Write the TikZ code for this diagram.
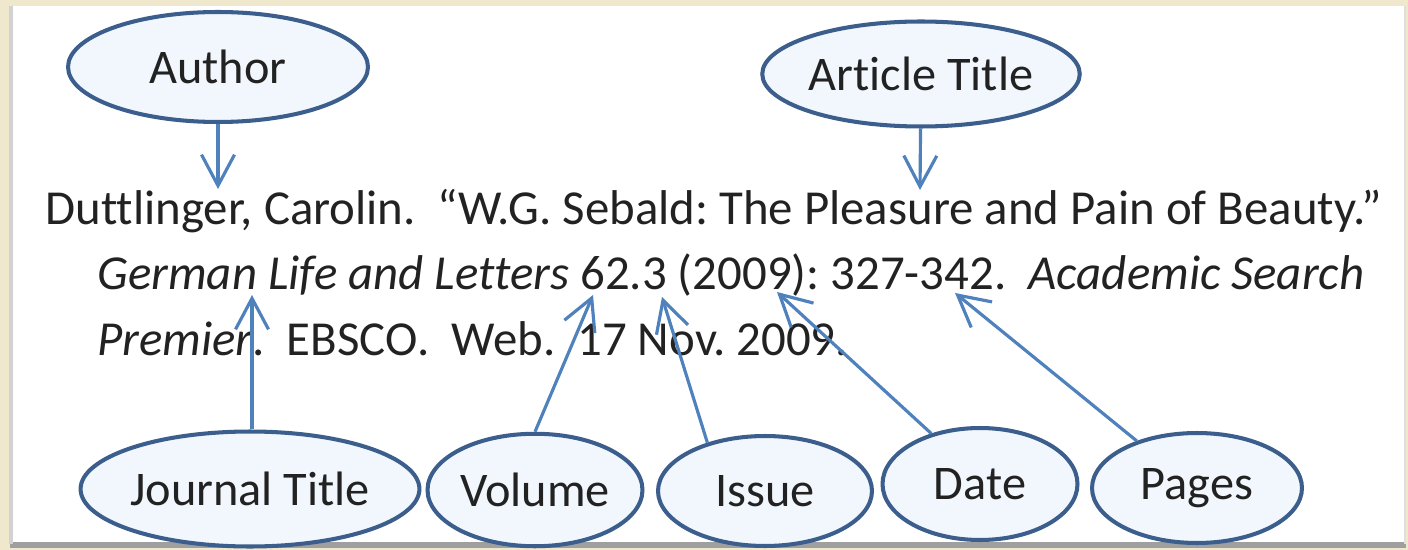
\documentclass[tikz,border=0pt]{standalone}
\usepackage{fontspec}
\setmainfont[Ligatures=NoCommon]{Carlito}
\usepackage{tikz}
\usetikzlibrary{shapes.geometric,arrows.meta,positioning}
\definecolor{framebeige}{HTML}{F0E8CC}
\definecolor{ellborder}{HTML}{3B5E8C}
\definecolor{ellfill}{HTML}{F1F7FD}
\definecolor{arrowblue}{HTML}{4F81BD}
\definecolor{textgray}{HTML}{222222}
\tikzset{
	part/.style={ellipse,draw=ellborder,fill=ellfill,line width=2.3pt,inner sep=0pt,text=textgray,font=\fontsize{27.5}{32}\selectfont},
	pointer/.style={arrowblue,line width=1.8pt,-{Straight Barb[length=0.62cm,width=0.66cm]}},
	citeline/.style={anchor=base west,inner sep=0pt,text=textgray,font=\fontsize{27.8}{32}\selectfont}
}
\frenchspacing

\begin{document}
\begin{tikzpicture}[x=0.02cm,y=-0.02cm]
		\useasboundingbox (0,0) rectangle (1408,550);
		% frame
		\fill[framebeige] (0,0) rectangle (1408,550);
		\fill[white] (10,6) rectangle (1404,543);
		\draw[gray!75,line width=3pt] (10,545) -- (1406,545);
		\draw[gray!35,line width=2pt] (11,6) -- (11,544);
		\draw[gray!25,line width=1pt] (1405,6) -- (1405,544);
		% citation
		\node[citeline] (line one) at (45,225) {Duttlinger, Carolin.\ \ “W.G. Sebald: The Pleasure and Pain of Beauty.”};
		\node[citeline] (line two) at (97,290) {\textit{German Life and Letters} 62.3 (2009): 327-342.\ \ \textit{Academic Search}};
		\node[citeline] (line three) at (97,355) {\textit{Premier}.\ \ EBSCO.\ \ Web.\ \ 17 Nov. 2009.};
		% parts of the citation
		\node[part,minimum width=6cm,minimum height=2.2cm] (author) at (218,67) {Author};
		\node[part,minimum width=5.96cm,minimum height=2.1cm] (article) at (921,74) {Article Title};
		\node[part,minimum width=6.6cm,minimum height=2.3cm] (journal) at (250,489) {Journal Title};
		\node[part,minimum width=4.3cm,minimum height=2.25cm] (volume) at (535,490) {Volume};
		\node[part,minimum width=4.28cm,minimum height=2.2cm] (issue) at (765,491) {Issue};
		\node[part,minimum width=3.9cm,minimum height=2.24cm] (date) at (980,484) {Date};
		\node[part,minimum width=4.2cm,minimum height=2.2cm] (pages) at (1197,488) {Pages};
		% arrow tips
		\coordinate (author tip) at (218,189);
		\coordinate (article tip) at (920,190);
		\coordinate (journal tip) at (252,295);
		\coordinate (volume tip) at (593,295);
		\coordinate (issue tip) at (662,297);
		\coordinate (date tip) at (777,292);
		\coordinate (pages tip) at (955,293);
		\draw[pointer] (author) -- (author tip);
		\draw[pointer] (article) -- (article tip);
		\draw[pointer] (journal tip |- journal.north) -- (journal tip);
		\draw[pointer] (volume.north) -- (volume tip);
		\draw[pointer] (issue.140) -- (issue tip);
		\draw[pointer] (date.134) -- (date tip);
		\draw[pointer] (pages.142) -- (pages tip);
	\end{tikzpicture}
\end{document}
